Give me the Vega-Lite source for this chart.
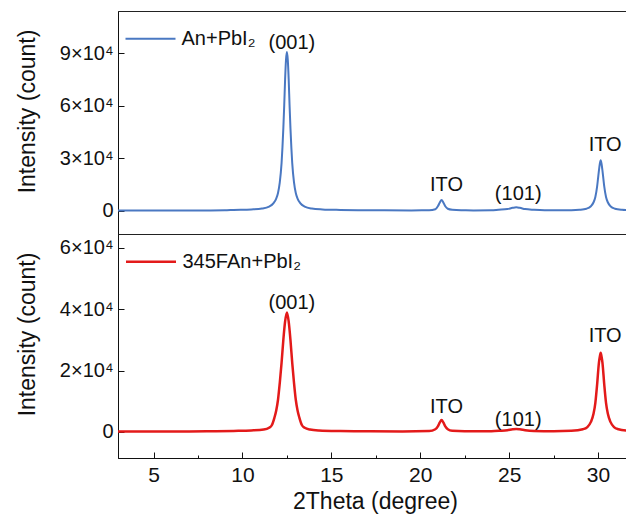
{
  "$schema": "https://vega.github.io/schema/vega-lite/v6.json",
  "padding": {"left": 15, "top": 10, "right": 0, "bottom": 0},
  "spacing": 0,
  "bounds": "flush",
  "resolve": {"scale": {"color": "independent", "x": "independent", "y": "independent"}},
  "config": {
    "font": "Liberation Sans",
    "view": {"stroke": "#222", "strokeWidth": 1},
    "axis": {"domainColor": "#111", "tickColor": "#111", "labelColor": "#111", "titleColor": "#111", "titleFontWeight": "normal", "labelFont": "Liberation Sans", "titleFont": "Liberation Sans", "grid": false, "labelFlush": false, "labelOverlap": false, "tickWidth": 1, "domainWidth": 1},
    "text": {"font": "Liberation Sans"}
  },
  "datasets": {
    "top": [{"x":3,"y":300},{"x":4,"y":290},{"x":5,"y":280},{"x":6,"y":290},{"x":7,"y":300},{"x":8,"y":330},{"x":9,"y":400},{"x":9.5,"y":600},{"x":10.5,"y":900},{"x":11.1,"y":1400},{"x":11.5,"y":2500},{"x":11.75,"y":4500},{"x":11.9,"y":7100},{"x":12.0,"y":10300},{"x":12.1,"y":16300},{"x":12.2,"y":27300},{"x":12.25,"y":36300},{"x":12.3,"y":47300},{"x":12.35,"y":60300},{"x":12.4,"y":75300},{"x":12.45,"y":86300},{"x":12.5,"y":90700},{"x":12.55,"y":86300},{"x":12.6,"y":75300},{"x":12.65,"y":60300},{"x":12.7,"y":47300},{"x":12.75,"y":36300},{"x":12.8,"y":27300},{"x":12.9,"y":16300},{"x":13.0,"y":10300},{"x":13.1,"y":7100},{"x":13.25,"y":4500},{"x":13.5,"y":2500},{"x":13.9,"y":1400},{"x":14.5,"y":900},{"x":15.5,"y":600},{"x":16.5,"y":450},{"x":18,"y":380},{"x":19.5,"y":350},{"x":20.5,"y":400},{"x":20.85,"y":1000},{"x":21.0,"y":2800},{"x":21.1,"y":4900},{"x":21.2,"y":6300},{"x":21.3,"y":4900},{"x":21.4,"y":2800},{"x":21.55,"y":1300},{"x":21.8,"y":700},{"x":22.3,"y":400},{"x":23,"y":350},{"x":24,"y":400},{"x":24.4,"y":700},{"x":24.9,"y":1100},{"x":25.2,"y":1800},{"x":25.4,"y":2100},{"x":25.6,"y":1800},{"x":25.9,"y":1100},{"x":26.4,"y":700},{"x":27,"y":450},{"x":28,"y":400},{"x":28.5,"y":450},{"x":28.95,"y":700},{"x":29.35,"y":1300},{"x":29.6,"y":2700},{"x":29.75,"y":5000},{"x":29.85,"y":8000},{"x":29.95,"y":14000},{"x":30.0,"y":18500},{"x":30.05,"y":23000},{"x":30.1,"y":26800},{"x":30.15,"y":28900},{"x":30.2,"y":26800},{"x":30.25,"y":23000},{"x":30.3,"y":18500},{"x":30.35,"y":14000},{"x":30.45,"y":8000},{"x":30.55,"y":5000},{"x":30.7,"y":2700},{"x":30.95,"y":1300},{"x":31.35,"y":700},{"x":31.63,"y":550}],
    "bottom": [{"x":3,"y":200},{"x":5,"y":180},{"x":7,"y":200},{"x":8.5,"y":250},{"x":9.5,"y":350},{"x":10.5,"y":500},{"x":11.2,"y":800},{"x":11.5,"y":1400},{"x":11.65,"y":2200},{"x":11.8,"y":4700},{"x":11.9,"y":7000},{"x":12.0,"y":10500},{"x":12.1,"y":16000},{"x":12.2,"y":22500},{"x":12.3,"y":30000},{"x":12.4,"y":36000},{"x":12.5,"y":38900},{"x":12.6,"y":36000},{"x":12.7,"y":30000},{"x":12.8,"y":22500},{"x":12.9,"y":16000},{"x":13.0,"y":10500},{"x":13.1,"y":7000},{"x":13.2,"y":4700},{"x":13.35,"y":2200},{"x":13.5,"y":1400},{"x":13.8,"y":800},{"x":14.3,"y":500},{"x":15.5,"y":300},{"x":17,"y":220},{"x":19,"y":200},{"x":20.5,"y":300},{"x":20.85,"y":900},{"x":21.0,"y":1900},{"x":21.1,"y":3100},{"x":21.2,"y":3900},{"x":21.3,"y":3100},{"x":21.4,"y":1900},{"x":21.55,"y":900},{"x":21.8,"y":400},{"x":22.5,"y":250},{"x":24,"y":250},{"x":24.5,"y":400},{"x":24.9,"y":600},{"x":25.2,"y":900},{"x":25.4,"y":1000},{"x":25.6,"y":900},{"x":25.9,"y":600},{"x":26.4,"y":350},{"x":27.5,"y":250},{"x":28.5,"y":400},{"x":29.15,"y":900},{"x":29.4,"y":1600},{"x":29.6,"y":3300},{"x":29.75,"y":6000},{"x":29.85,"y":9500},{"x":29.95,"y":15500},{"x":30.05,"y":22500},{"x":30.1,"y":24500},{"x":30.15,"y":25800},{"x":30.2,"y":24500},{"x":30.25,"y":22500},{"x":30.35,"y":15500},{"x":30.45,"y":9500},{"x":30.55,"y":6000},{"x":30.7,"y":3300},{"x":30.9,"y":1600},{"x":31.15,"y":900},{"x":31.63,"y":450}],
    "labelsTop": [{"x":12.78,"y":95900,"t":"(001)"},{"x":21.48,"y":14700,"t":"ITO"},{"x":25.51,"y":9500,"t":"(101)"},{"x":30.4,"y":37800,"t":"ITO"}],
    "labelsBottom": [{"x":12.78,"y":42100,"t":"(001)"},{"x":21.48,"y":8200,"t":"ITO"},{"x":25.51,"y":3750,"t":"(101)"},{"x":30.4,"y":31200,"t":"ITO"}]
  },
  "vconcat": [
    {
      "width": 509,
      "height": 223,
      "layer": [
        {
          "data": {"name": "top"},
          "mark": {"type": "line", "strokeWidth": 2, "interpolate": "monotone"},
          "encoding": {
            "x": {"field": "x", "type": "quantitative", "scale": {"domain": [3, 31.63], "nice": false, "zero": false},
                  "axis": {"labels": false, "ticks": false, "title": null}},
            "y": {"field": "y", "type": "quantitative", "scale": {"domain": [-13125, 114130], "nice": false, "zero": false},
                  "axis": {"title": "Intensity (count)", "titleFontSize": 23, "titleX": -84, "titleY": 100, "titleBaseline": "alphabetic", "titleAngle": -90, "titleAlign": "center",
                           "values": [0, 15000, 30000, 45000, 60000, 75000, 90000, 105000],
                           "labelExpr": "datum.value % 30000 === 0 ? (datum.value === 0 ? '0' : (datum.value / 10000) + '×10⁴') : ''",
                           "tickSize": {"condition": {"test": "datum.value % 30000 === 0", "value": -6}, "value": -3},
                           "labelPadding": 11, "labelFontSize": 20}},
            "color": {"datum": "An+PbI₂", "type": "nominal", "scale": {"domain": ["An+PbI₂"], "range": ["#4a78c2"]},
                      "legend": {"orient": "none", "legendX": 6.5, "legendY": 1.7, "title": null, "symbolType": "stroke", "symbolSize": 2500, "symbolStrokeWidth": 2, "labelFontSize": 20, "labelOffset": 5, "labelLimit": 400, "padding": 0, "labelColor": "#111", "labelFont": "Liberation Sans"}}
          }
        },
        {
          "data": {"name": "labelsTop"},
          "mark": {"type": "text", "fontSize": 20, "baseline": "middle", "align": "center", "color": "#111"},
          "encoding": {
            "x": {"field": "x", "type": "quantitative"},
            "y": {"field": "y", "type": "quantitative"},
            "text": {"field": "t"}
          }
        }
      ]
    },
    {
      "width": 509,
      "height": 224,
      "layer": [
        {
          "data": {"name": "bottom"},
          "mark": {"type": "line", "strokeWidth": 2.5, "interpolate": "monotone"},
          "encoding": {
            "x": {"field": "x", "type": "quantitative", "scale": {"domain": [3, 31.63], "nice": false, "zero": false},
                  "axis": {"title": "2Theta (degree)", "titleFontSize": 23, "titleX": 257, "titleY": 50.5, "titleBaseline": "alphabetic",
                           "values": [5, 7.5, 10, 12.5, 15, 17.5, 20, 22.5, 25, 27.5, 30],
                           "labelExpr": "datum.value % 5 === 0 ? datum.label : ''",
                           "tickSize": {"condition": {"test": "datum.value % 5 === 0", "value": -6}, "value": -3},
                           "labelPadding": 12, "labelFontSize": 21}},
            "y": {"field": "y", "type": "quantitative", "scale": {"domain": [-8465, 64460], "nice": false, "zero": false},
                  "axis": {"title": "Intensity (count)", "titleFontSize": 23, "titleX": -84, "titleY": 100, "titleBaseline": "alphabetic", "titleAngle": -90, "titleAlign": "center",
                           "values": [0, 10000, 20000, 30000, 40000, 50000, 60000],
                           "labelExpr": "datum.value % 20000 === 0 ? (datum.value === 0 ? '0' : (datum.value / 10000) + '×10⁴') : ''",
                           "tickSize": {"condition": {"test": "datum.value % 20000 === 0", "value": -6}, "value": -3},
                           "labelPadding": 11, "labelFontSize": 20}},
            "color": {"datum": "345FAn+PbI₂", "type": "nominal", "scale": {"domain": ["345FAn+PbI₂"], "range": ["#e31a1a"]},
                      "legend": {"orient": "none", "legendX": 6.5, "legendY": 1.3, "title": null, "symbolType": "stroke", "symbolSize": 2500, "symbolStrokeWidth": 2.5, "labelFontSize": 20, "labelOffset": 5, "labelLimit": 400, "padding": 0, "labelColor": "#111", "labelFont": "Liberation Sans"}}
          }
        },
        {
          "data": {"name": "labelsBottom"},
          "mark": {"type": "text", "fontSize": 20, "baseline": "middle", "align": "center", "color": "#111"},
          "encoding": {
            "x": {"field": "x", "type": "quantitative"},
            "y": {"field": "y", "type": "quantitative"},
            "text": {"field": "t"}
          }
        }
      ]
    }
  ]
}
